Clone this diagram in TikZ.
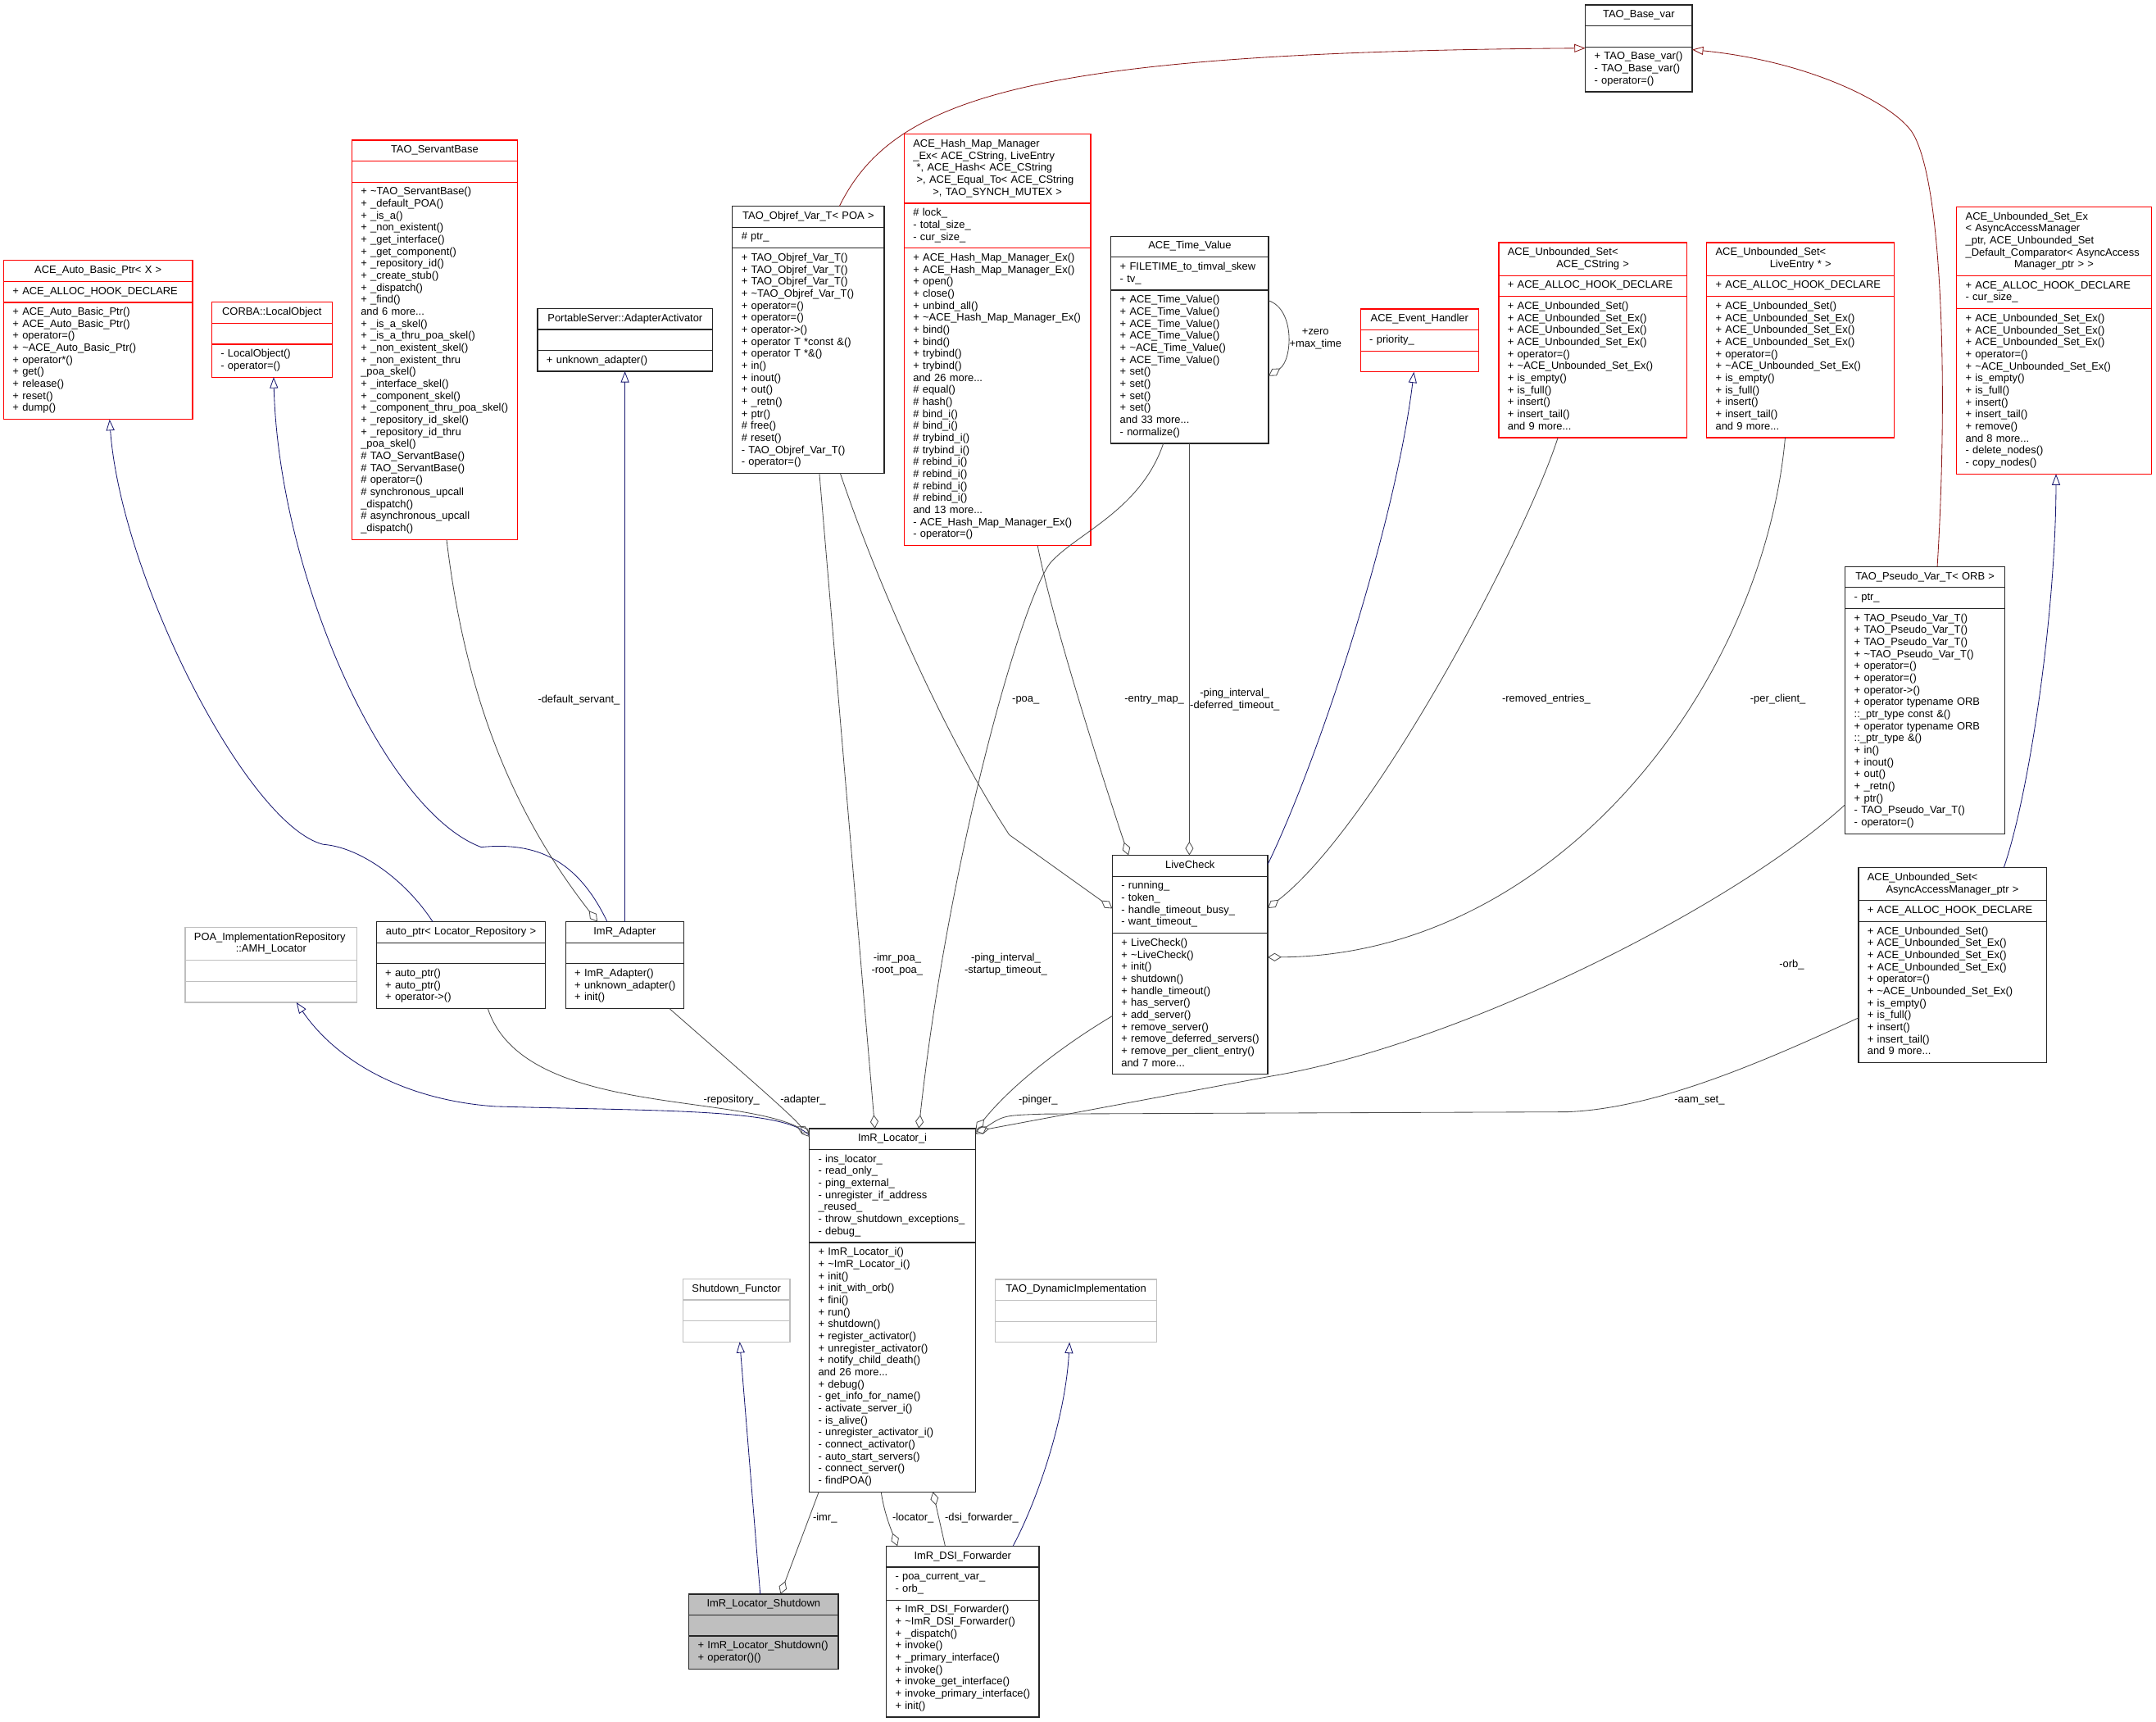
\documentclass[tikz,border=0pt]{standalone}
\usepackage{fontspec}
\newfontfamily\dxfont{Liberation Sans}
\usetikzlibrary{positioning,fit,arrows.meta}
\definecolor{navy}{HTML}{191970}
\definecolor{brick}{HTML}{8B1A1A}
\newcommand\hd{\centering\parskip=0pt\strut}
\newcommand\bd{\raggedright\parskip=0pt\leftskip=6.5pt\rightskip=-30pt plus 1fil\hyphenpenalty=10000\strut}
\newcommand\tl[1]{{\bd #1\par}}
\newcommand\umlclass[8]{%
  \node[#2, text width=#5pt, anchor=north west] (#1-t) at (#3,#4) {\hd #6\strut\par};
  \node[#2, text width=#5pt, below=0pt of #1-t] (#1-a) {\bd #7\strut\par};
  \node[#2, text width=#5pt, below=0pt of #1-a] (#1-o) {\bd #8\strut\par};
  \node[fit=(#1-t)(#1-o), inner sep=0pt, outer sep=0pt] (#1) {};}
\begin{document}
\begin{tikzpicture}[x=1pt,y=-1pt,
  box/.style={draw, line width=0.7pt, inner xsep=0pt, inner ysep=3.25pt, outer sep=0pt,
    font=\dxfont\fontsize{7.7}{8.74}\selectfont},
  redbox/.style={box, draw=red},
  blkbox/.style={box, draw=black!85},
  grybox/.style={box, draw=black!25},
  shdbox/.style={box, draw=black!85, fill=black!25},
  inh/.style={draw=navy, line width=0.5pt, -{Triangle[open, length=8pt, width=6pt]}},
  tpl/.style={draw=brick, line width=0.5pt, -{Triangle[open, length=8pt, width=6pt]}},
  use/.style={draw=black!70, line width=0.5pt, -{Diamond[open, length=10pt, width=6pt]}},
  lbl/.style={font=\dxfont\fontsize{7.7}{8.9}\selectfont, align=center, inner sep=0pt}]
\useasboundingbox (0,0) rectangle (1568,1252);

\umlclass{acebp}{redbox}{2.7}{189.4}{137.3}{ACE\_Auto\_Basic\_Ptr< X >}{+ ACE\_ALLOC\_HOOK\_DECLARE}{+ ACE\_Auto\_Basic\_Ptr()\\+ ACE\_Auto\_Basic\_Ptr()\\+ operator=()\\+ \textasciitilde ACE\_Auto\_Basic\_Ptr()\\+ operator*()\\+ get()\\+ release()\\+ reset()\\+ dump()}
\umlclass{lobj}{redbox}{154}{219.8}{87.5}{CORBA::LocalObject}{}{- LocalObject()\\- operator=()}
\umlclass{tsb}{redbox}{255.9}{101.9}{120.4}{TAO\_ServantBase}{}{+ \textasciitilde TAO\_ServantBase()\\+ \_default\_POA()\\+ \_is\_a()\\+ \_non\_existent()\\+ \_get\_interface()\\+ \_get\_component()\\+ \_repository\_id()\\+ \_create\_stub()\\+ \_dispatch()\\+ \_find()\\and 6 more...\\+ \_is\_a\_skel()\\+ \_is\_a\_thru\_poa\_skel()\\+ \_non\_existent\_skel()\\+ \_non\_existent\_thru\\\_poa\_skel()\\+ \_interface\_skel()\\+ \_component\_skel()\\+ \_component\_thru\_poa\_skel()\\+ \_repository\_id\_skel()\\+ \_repository\_id\_thru\\\_poa\_skel()\\\# TAO\_ServantBase()\\\# TAO\_ServantBase()\\\# operator=()\\\# synchronous\_upcall\\\_dispatch()\\\# asynchronous\_upcall\\\_dispatch()}
\umlclass{aact}{blkbox}{391}{224.3}{127.3}{PortableServer::AdapterActivator}{}{+ unknown\_adapter()}
\umlclass{tov}{blkbox}{532.7}{149.9}{110.3}{TAO\_Objref\_Var\_T< POA >}{\# ptr\_}{+ TAO\_Objref\_Var\_T()\\+ TAO\_Objref\_Var\_T()\\+ TAO\_Objref\_Var\_T()\\+ \textasciitilde TAO\_Objref\_Var\_T()\\+ operator=()\\+ operator=()\\+ operator->()\\+ operator T *const \&()\\+ operator T *\&()\\+ in()\\+ inout()\\+ out()\\+ \_retn()\\+ ptr()\\\# free()\\\# reset()\\- TAO\_Objref\_Var\_T()\\- operator=()}
\umlclass{hmm}{redbox}{657.6}{97.6}{135.6}{\tl{ACE\_Hash\_Map\_Manager\\\_Ex< ACE\_CString, LiveEntry\\\ *, ACE\_Hash< ACE\_CString\\\ >, ACE\_Equal\_To< ACE\_CString}>, TAO\_SYNCH\_MUTEX >}{\# lock\_\\- total\_size\_\\- cur\_size\_}{+ ACE\_Hash\_Map\_Manager\_Ex()\\+ ACE\_Hash\_Map\_Manager\_Ex()\\+ open()\\+ close()\\+ unbind\_all()\\+ \textasciitilde ACE\_Hash\_Map\_Manager\_Ex()\\+ bind()\\+ bind()\\+ trybind()\\+ trybind()\\and 26 more...\\\# equal()\\\# hash()\\\# bind\_i()\\\# bind\_i()\\\# trybind\_i()\\\# trybind\_i()\\\# rebind\_i()\\\# rebind\_i()\\\# rebind\_i()\\\# rebind\_i()\\and 13 more...\\- ACE\_Hash\_Map\_Manager\_Ex()\\- operator=()}
\umlclass{atv}{blkbox}{808}{171.8}{114.6}{ACE\_Time\_Value}{+ FILETIME\_to\_timval\_skew\\- tv\_}{+ ACE\_Time\_Value()\\+ ACE\_Time\_Value()\\+ ACE\_Time\_Value()\\+ ACE\_Time\_Value()\\+ \textasciitilde ACE\_Time\_Value()\\+ ACE\_Time\_Value()\\+ set()\\+ set()\\+ set()\\+ set()\\and 33 more...\\- normalize()}
\umlclass{aeh}{redbox}{989.5}{224.7}{85.8}{ACE\_Event\_Handler}{- priority\_}{}
\umlclass{usc}{redbox}{1090}{176.4}{136.7}{\tl{ACE\_Unbounded\_Set<}ACE\_CString >}{+ ACE\_ALLOC\_HOOK\_DECLARE}{+ ACE\_Unbounded\_Set()\\+ ACE\_Unbounded\_Set\_Ex()\\+ ACE\_Unbounded\_Set\_Ex()\\+ ACE\_Unbounded\_Set\_Ex()\\+ operator=()\\+ \textasciitilde ACE\_Unbounded\_Set\_Ex()\\+ is\_empty()\\+ is\_full()\\+ insert()\\+ insert\_tail()\\and 9 more...}
\umlclass{usl}{redbox}{1241.2}{176.4}{136.6}{\tl{ACE\_Unbounded\_Set<}LiveEntry * >}{+ ACE\_ALLOC\_HOOK\_DECLARE}{+ ACE\_Unbounded\_Set()\\+ ACE\_Unbounded\_Set\_Ex()\\+ ACE\_Unbounded\_Set\_Ex()\\+ ACE\_Unbounded\_Set\_Ex()\\+ operator=()\\+ \textasciitilde ACE\_Unbounded\_Set\_Ex()\\+ is\_empty()\\+ is\_full()\\+ insert()\\+ insert\_tail()\\and 9 more...}
\umlclass{usx}{redbox}{1423}{150.4}{141.6}{\tl{ACE\_Unbounded\_Set\_Ex\\< AsyncAccessManager\\\_ptr, ACE\_Unbounded\_Set\\\_Default\_Comparator< AsyncAccess}Manager\_ptr > >}{+ ACE\_ALLOC\_HOOK\_DECLARE\\- cur\_size\_}{+ ACE\_Unbounded\_Set\_Ex()\\+ ACE\_Unbounded\_Set\_Ex()\\+ ACE\_Unbounded\_Set\_Ex()\\+ operator=()\\+ \textasciitilde ACE\_Unbounded\_Set\_Ex()\\+ is\_empty()\\+ is\_full()\\+ insert()\\+ insert\_tail()\\+ remove()\\and 8 more...\\- delete\_nodes()\\- copy\_nodes()}
\umlclass{tbv}{blkbox}{1153}{3.6}{77.7}{TAO\_Base\_var}{}{+ TAO\_Base\_var()\\- TAO\_Base\_var()\\- operator=()}
\umlclass{tpv}{blkbox}{1342}{412}{116}{TAO\_Pseudo\_Var\_T< ORB >}{- ptr\_}{+ TAO\_Pseudo\_Var\_T()\\+ TAO\_Pseudo\_Var\_T()\\+ TAO\_Pseudo\_Var\_T()\\+ \textasciitilde TAO\_Pseudo\_Var\_T()\\+ operator=()\\+ operator=()\\+ operator->()\\+ operator typename ORB\\::\_ptr\_type const \&()\\+ operator typename ORB\\::\_ptr\_type \&()\\+ in()\\+ inout()\\+ out()\\+ \_retn()\\+ ptr()\\- TAO\_Pseudo\_Var\_T()\\- operator=()}
\umlclass{usa}{blkbox}{1351.6}{630.9}{136.6}{\tl{ACE\_Unbounded\_Set<}AsyncAccessManager\_ptr >}{+ ACE\_ALLOC\_HOOK\_DECLARE}{+ ACE\_Unbounded\_Set()\\+ ACE\_Unbounded\_Set\_Ex()\\+ ACE\_Unbounded\_Set\_Ex()\\+ ACE\_Unbounded\_Set\_Ex()\\+ operator=()\\+ \textasciitilde ACE\_Unbounded\_Set\_Ex()\\+ is\_empty()\\+ is\_full()\\+ insert()\\+ insert\_tail()\\and 9 more...}
\umlclass{live}{blkbox}{809}{621.9}{113}{LiveCheck}{- running\_\\- token\_\\- handle\_timeout\_busy\_\\- want\_timeout\_}{+ LiveCheck()\\+ \textasciitilde LiveCheck()\\+ init()\\+ shutdown()\\+ handle\_timeout()\\+ has\_server()\\+ add\_server()\\+ remove\_server()\\+ remove\_deferred\_servers()\\+ remove\_per\_client\_entry()\\and 7 more...}
\umlclass{amh}{grybox}{134.7}{674.4}{125}{\tl{POA\_ImplementationRepository}::AMH\_Locator}{}{}
\umlclass{autop}{blkbox}{273.7}{670.2}{123.1}{auto\_ptr< Locator\_Repository >}{}{+ auto\_ptr()\\+ auto\_ptr()\\+ operator->()}
\umlclass{adapter}{blkbox}{411.4}{670.2}{86}{ImR\_Adapter}{}{+ ImR\_Adapter()\\+ unknown\_adapter()\\+ init()}
\umlclass{loc}{blkbox}{588.6}{820.6}{120.9}{ImR\_Locator\_i}{- ins\_locator\_\\- read\_only\_\\- ping\_external\_\\- unregister\_if\_address\\\_reused\_\\- throw\_shutdown\_exceptions\_\\- debug\_}{+ ImR\_Locator\_i()\\+ \textasciitilde ImR\_Locator\_i()\\+ init()\\+ init\_with\_orb()\\+ fini()\\+ run()\\+ shutdown()\\+ register\_activator()\\+ unregister\_activator()\\+ notify\_child\_death()\\and 26 more...\\+ debug()\\- get\_info\_for\_name()\\- activate\_server\_i()\\- is\_alive()\\- unregister\_activator\_i()\\- connect\_activator()\\- auto\_start\_servers()\\- connect\_server()\\- findPOA()}
\umlclass{sfun}{grybox}{496.6}{930}{77.9}{Shutdown\_Functor}{}{}
\umlclass{tdi}{grybox}{723.8}{930.3}{117.6}{TAO\_DynamicImplementation}{}{}
\umlclass{shut}{shdbox}{501}{1159.1}{108.7}{ImR\_Locator\_Shutdown}{}{+ ImR\_Locator\_Shutdown()\\+ operator()()}
\umlclass{dsi}{blkbox}{644.6}{1124.2}{111.1}{ImR\_DSI\_Forwarder}{- poa\_current\_var\_\\- orb\_}{+ ImR\_DSI\_Forwarder()\\+ \textasciitilde ImR\_DSI\_Forwarder()\\+ \_dispatch()\\+ invoke()\\+ \_primary\_interface()\\+ invoke()\\+ invoke\_get\_interface()\\+ invoke\_primary\_interface()\\+ init()}

\draw[inh] ([xshift=41pt]autop.north west) .. controls (295,640) and (262,616) .. (235,614) .. controls (180,600) and (88,420) .. ([xshift=77pt]acebp.south west);
\draw[inh] ([xshift=30.2pt]adapter.north west) .. controls (420,625) and (390,612) .. (350,616) .. controls (280,590) and (203,420) .. ([xshift=45pt]lobj.south west);
\draw[use] ([xshift=68.9pt]tsb.south west) .. controls (340,520) and (380,600) .. ([xshift=23.1pt]adapter.north west);
\draw[inh] ([xshift=43.1pt]adapter.north west) -- ([xshift=63.5pt]aact.south west);
\draw[inh] ([yshift=-5pt]loc.north west) .. controls (570,806) and (480,808) .. (360,804.5) .. controls (295,800) and (245,772) .. ([xshift=80.9pt]amh.south west);
\draw[use] ([xshift=81.1pt]autop.south west) .. controls (380,810) and (530,795) .. ([yshift=-3pt]loc.north west);
\draw[use] ([xshift=75.5pt]adapter.south west) .. controls (540,780) and (575,810) .. ([yshift=-6pt]loc.north west);
\draw[use] ([xshift=63.2pt]tov.south west) -- ([xshift=47.7pt]loc.north west);
\draw[use] ([xshift=38.1pt]atv.south west) .. controls (830,370) and (785,387) .. (765,408) .. controls (745,429) and (690,620) .. ([xshift=79.6pt]loc.north west);
\draw[use] ([yshift=-46.8pt]atv.north east) .. controls (942,225) and (940,262) .. ([yshift=-101.6pt]atv.north east);
\draw[use] ([xshift=78.4pt]tov.south west) .. controls (640,430) and (690,540) .. (734,607) -- ([yshift=-38.7pt]live.north west);
\draw[use] ([xshift=97pt]hmm.south west) .. controls (765,450) and (800,560) .. ([xshift=11.7pt]live.north west);
\draw[use] ([xshift=57pt]atv.south west) -- ([xshift=56pt]live.north west);
\draw[inh] ([yshift=-6.6pt]live.north east) .. controls (960,550) and (1015,380) .. ([xshift=38.8pt]aeh.south west);
\draw[use] ([xshift=43pt]usc.south west) .. controls (1110,390) and (1000,600) .. ([yshift=-38.5pt]live.north east);
\draw[use] ([xshift=57.1pt]usl.south west) .. controls (1282,500) and (1130,695) .. ([yshift=-74.1pt]live.north east);
\draw[tpl] ([xshift=77.8pt]tov.north west) .. controls (650,70) and (750,38) .. ([yshift=-31.4pt]tbv.north west);
\draw[tpl] ([xshift=66.9pt]tpv.north west) .. controls (1416,300) and (1414.5,137.8) .. (1391.5,97.6) .. controls (1380,77.5) and (1320,45) .. ([yshift=-32.5pt]tbv.north east);
\draw[use] ([yshift=-173pt]tpv.north west) .. controls (1260,660) and (1060,760) .. (924.5,782.5) -- ([yshift=-2pt]loc.north east);
\draw[use] ([yshift=-109.2pt]usa.north west) .. controls (1270,778) and (1200,806) .. (1140,808.5) -- (760,810) .. controls (730,811) .. ([yshift=-4pt]loc.north east);
\draw[inh] ([xshift=105.7pt]usa.north west) .. controls (1475,580) and (1495,450) .. ([xshift=72.3pt]usx.south west);
\draw[use] ([yshift=-116.8pt]live.north west) .. controls (770,762) and (735,790) .. ([yshift=-1pt]loc.north east);
\draw[use] ([xshift=6.9pt]loc.south west) -- ([xshift=66.6pt]shut.north west);
\draw[use] ([xshift=52.2pt]loc.south west) .. controls (643,1100) and (648,1112) .. ([xshift=8.1pt]dsi.north west);
\draw[use] ([xshift=42.8pt]dsi.north west) -- ([xshift=89.9pt]loc.south west);
\draw[inh] ([xshift=51.9pt]shut.north west) -- ([xshift=41.4pt]sfun.south west);
\draw[inh] ([xshift=92.1pt]dsi.north west) .. controls (755,1090) and (775,1030) .. ([xshift=54pt]tdi.south west);

\node[lbl] (l-servant) at (421,509) {-default\_servant\_};
\node[lbl] (l-repo) at (532,800) {-repository\_};
\node[lbl] (l-adapter) at (584,800) {-adapter\_};
\node[lbl] (l-poas) at (652.5,701) {-imr\_poa\_\\-root\_poa\_};
\node[lbl] (l-startup) at (731.5,701) {-ping\_interval\_\\-startup\_timeout\_};
\node[lbl] (l-poa) at (746,509) {-poa\_};
\node[lbl] (l-entry) at (839.5,509) {-entry\_map\_};
\node[lbl] (l-deferred) at (898,508.5) {-ping\_interval\_\\-deferred\_timeout\_};
\node[lbl] (l-removed) at (1124.5,508.7) {-removed\_entries\_};
\node[lbl] (l-client) at (1293,508.7) {-per\_client\_};
\node[lbl] (l-zero) at (956.7,246.4) {+zero\\+max\_time};
\node[lbl] (l-pinger) at (755,800) {-pinger\_};
\node[lbl] (l-orb) at (1303,701.4) {-orb\_};
\node[lbl] (l-aam) at (1236,800.3) {-aam\_set\_};
\node[lbl] (l-imr) at (600,1103.6) {-imr\_};
\node[lbl] (l-locator) at (664,1103.6) {-locator\_};
\node[lbl] (l-dsi) at (714,1103.6) {-dsi\_forwarder\_};
\end{tikzpicture}
\end{document}
